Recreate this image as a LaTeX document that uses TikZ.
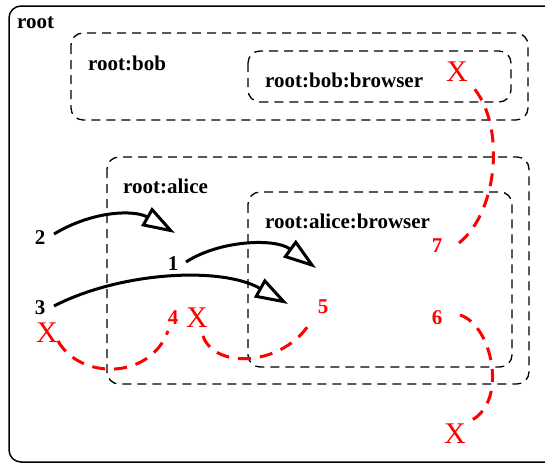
\documentclass[tikz,border=0pt]{standalone}
\usepackage{fontspec}
\setmainfont{Liberation Serif}
\usetikzlibrary{arrows.meta}
\begin{document}
\begin{tikzpicture}[x=1pt,y=-1pt,
  lbl/.style={font=\fontsize{21}{24}\selectfont\bfseries, inner sep=0pt, anchor=west},
  num/.style={font=\fontsize{21}{24}\selectfont\bfseries, inner sep=0pt},
  rnum/.style={num, text=red},
  cross/.style={font=\fontsize{30}{34}\selectfont, text=red, inner sep=0pt},
  grp/.style={draw=black, dashed, dash pattern=on 9pt off 6pt, line width=1.3pt, rounded corners=12pt},
  arr/.style={draw=black, line width=3pt, -{Triangle[open, length=33pt, width=21pt, line width=3pt]}},
  rpath/.style={draw=red, line width=3pt, dash pattern=on 13pt off 9pt}]
\useasboundingbox (0,0) rectangle (545,463);
\clip (0,0) rectangle (545,463);
% outer root
\draw[line width=1.5pt, rounded corners=12pt] (9,6) rectangle (580,462);
\node[lbl] (root) at (17,23) {root};
% bob
\draw[grp] (71,33) rectangle (528,120);
\node[lbl] (bob) at (88,63) {root:bob};
\draw[grp] (248,51) rectangle (511,102);
\node[lbl] (bobb) at (265,80) {root:bob:browser};
% alice
\draw[grp] (107,157) rectangle (529,384);
\node[lbl] (alice) at (123,186) {root:alice};
\draw[grp] (248,192) rectangle (512,367);
\node[lbl] (aliceb) at (265,221) {root:alice:browser};
% numbers
\node[num] (n2) at (40,238) {2};
\node[num] (n1) at (173,264) {1};
\node[num] (n3) at (40,308) {3};
\node[rnum] (n4) at (173,318) {4};
\node[rnum] (n5) at (323,307) {5};
\node[rnum] (n7) at (437,246) {7};
\node[rnum] (n6) at (437,318) {6};
% crosses
\node[cross] (x1) at (47,333) {X};
\node[cross] (x2) at (197,318) {X};
\node[cross] (x3) at (455,434) {X};
\node[cross] (x4) at (457,72) {X};
% arrow endpoints
\coordinate (a2s) at (54,234);
\coordinate (a2e) at (175,233);
\coordinate (a1s) at (186,262);
\coordinate (a1e) at (316,268);
\coordinate (a3s) at (54,306);
\coordinate (a3e) at (288,304);
\draw[arr] (a2s) .. controls (94,210) and (135,210) .. (a2e);
\draw[arr] (a1s) .. controls (220,240) and (275,238) .. (a1e);
\draw[arr] (a3s) .. controls (120,272) and (220,266) .. (a3e);
% red paths
\coordinate (rAs) at (58,341);
\coordinate (rAe) at (168,331);
\coordinate (rBs) at (203,336);
\coordinate (rBe) at (310,323);
\coordinate (r7s) at (459,243);
\coordinate (r7e) at (471,85);
\coordinate (r6s) at (460,315);
\coordinate (r6e) at (472,420);
\draw[rpath] (rAs) .. controls (80,380) and (150,380) .. (rAe);
\draw[rpath] (rBs) .. controls (215,370) and (283,366) .. (rBe);
\draw[rpath] (r7s) .. controls (500,210) and (505,120) .. (r7e);
\draw[rpath] (r6s) .. controls (492,325) and (508,400) .. (r6e);
\end{tikzpicture}
\end{document}
